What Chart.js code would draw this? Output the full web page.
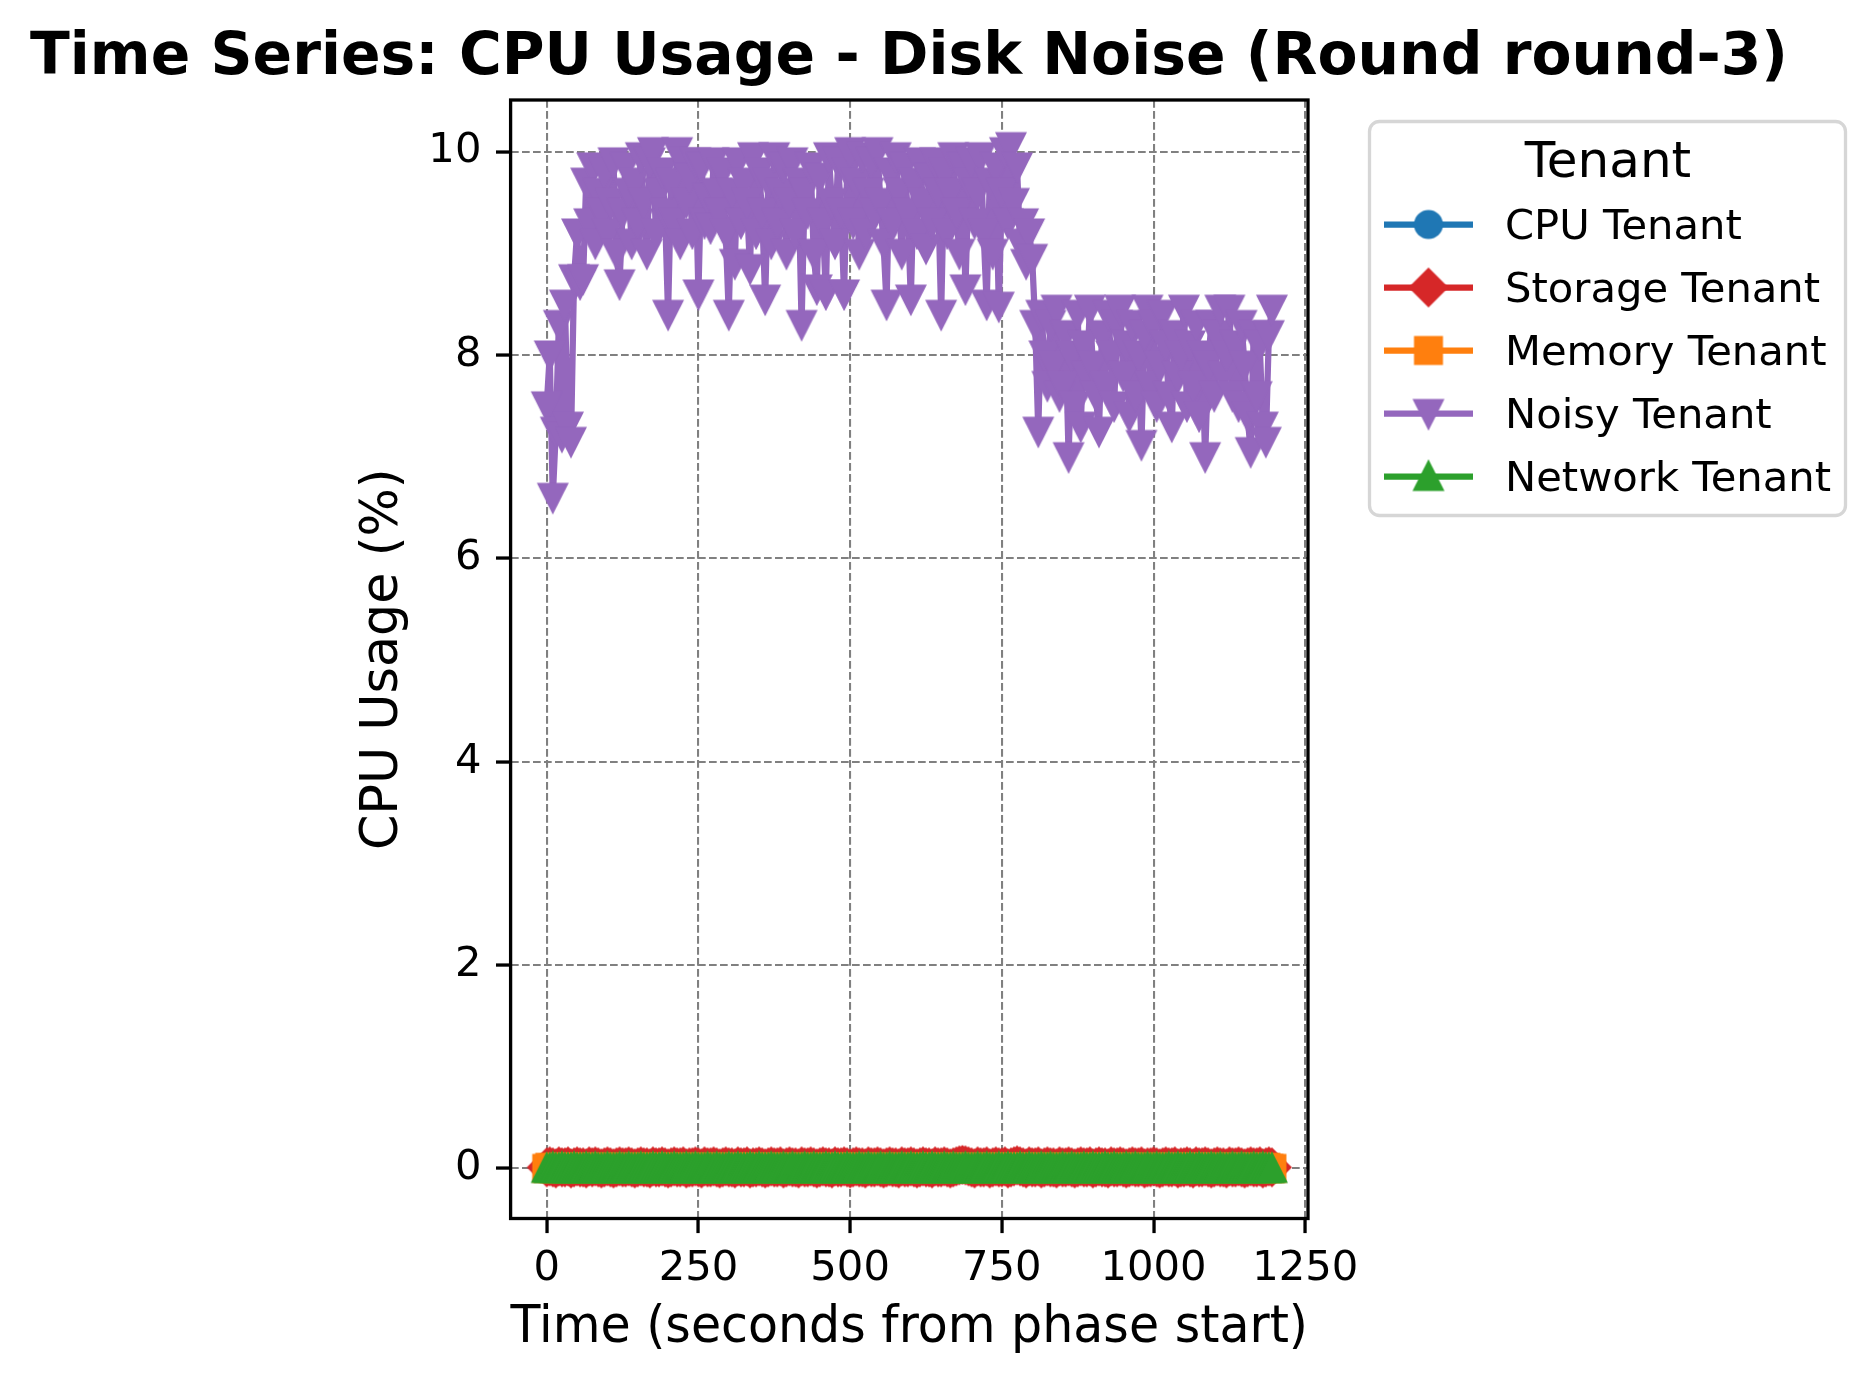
<!DOCTYPE html>
<html><head><meta charset="utf-8">
<script src="https://cdn.jsdelivr.net/npm/chart.js@4.4.1/dist/chart.umd.min.js"></script>
<style>html,body{margin:0;padding:0;background:#fff;}#wrap{width:1875px;height:1386px;position:relative;}</style>
</head><body><div id="wrap"><canvas id="c"></canvas></div>
<script>
// ---------- data ----------
const times = [
0,5,10,15,20,25,30,35,40,45,50,55,60,65,70,75,80,85,90,95,
100,105,110,115,120,125,130,135,140,145,150,155,160,165,170,175,180,185,190,195,
200,205,210,215,220,225,230,235,240,245,250,255,260,265,270,275,280,285,290,295,
300,305,310,315,320,325,330,335,340,345,350,355,360,365,370,375,380,385,390,395,
400,405,410,415,420,425,430,435,440,445,450,455,460,465,470,475,480,485,490,495,
500,505,510,515,520,525,530,535,540,545,550,555,560,565,570,575,580,585,590,595,
600,605,610,615,620,625,630,635,640,645,650,655,660,665,670,675,680,685,690,695,
700,705,710,715,720,725,730,735,740,745,750,755,760,765,770,775,780,785,790,795,
800,805,810,815,820,825,830,835,840,845,850,855,860,865,870,875,880,885,890,895,
900,905,910,915,920,925,930,935,940,945,950,955,960,965,970,975,980,985,990,995,
1000,1005,1010,1015,1020,1025,1030,1035,1040,1045,1050,1055,1060,1065,1070,1075,1080,1085,1090,1095,
1100,1105,1110,1115,1120,1125,1130,1135,1140,1145,1150,1155,1160,1165,1170,1175,1180,1185,1190,1195
];
const noisyTenant = [
7.5,8.0,6.6,7.25,8.3,7.2,8.5,7.3,7.15,8.75, 9.2,8.7,8.75,9.7,9.3,9.85,9.1,9.6,9.4,9.8,
9.2,9.5,9.9,9.0,8.7,9.4,9.85,9.6,9.1,9.7, 9.3,9.95,9.5,9.0,9.9,10.0,9.2,9.6,9.8,9.4,
8.4,9.7,9.3,10.0,9.1,9.9,9.5,9.75,9.2,9.9, 8.6,9.85,9.3,9.55,9.25,9.9,9.6,9.4,9.8,9.2,
8.4,9.6,8.9,9.9,9.3,9.7,9.5,8.85,9.95,9.2, 9.8,9.4,8.55,9.7,9.1,9.95,9.3,9.6,9.85,9.0,
9.5,9.9,9.2,9.7,8.3,9.6,9.4,9.85,9.0,8.65, 9.75,9.3,8.6,9.95,9.5,9.1,9.9,9.4,8.6,9.8,
10.0,9.3,9.7,9.0,9.95,9.2,9.6,9.9,9.4,10.0, 9.5,9.1,8.5,9.8,9.3,9.95,9.6,9.0,9.85,9.4,
8.55,9.7,9.2,9.9,9.5,9.05,9.75,9.3,9.9,9.6, 8.4,9.8,9.2,9.6,9.95,9.4,9.0,9.85,8.65,9.7,
9.9,9.3,9.6,9.95,9.2,8.5,9.7,9.0,9.85,8.48, 9.6,10.0,9.3,10.05,9.5,9.85,9.1,9.3,8.9,9.2,
8.95,8.3,7.25,8.4,8.0,7.7,8.3,7.9,8.45,7.6, 7.7,8.2,7.0,8.0,7.5,8.4,7.3,8.1,7.8,8.45,
7.9,7.6,7.25,8.2,7.7,8.4,8.0,7.5,8.3,8.45, 7.8,8.1,7.4,8.3,7.6,8.0,7.12,8.2,8.45,7.7,
8.3,7.5,7.9,8.4,8.1,7.6,7.3,8.2,7.8,8.0, 8.45,7.5,8.1,7.7,8.3,7.4,8.0,7.0,7.9,8.3,
7.6,8.2,8.45,7.8,8.0,8.45,7.6,8.1,7.5,8.3, 7.9,7.4,7.05,8.2,7.6,8.1,7.3,7.15,8.2,8.45
];
const cpuTenant = [
0.01,0.02,0.01,0.01,0.0,0.02,0.01,0.01,0.02,0.01,0.0,0.01,0.02,0.01,0.01,0.0,0.01,0.02,0.01,0.01,
0.02,0.01,0.0,0.01,0.01,0.02,0.01,0.0,0.01,0.02,0.01,0.01,0.0,0.02,0.01,0.01,0.02,0.0,0.01,0.01,
0.01,0.0,0.02,0.01,0.01,0.01,0.02,0.01,0.0,0.01,0.02,0.01,0.01,0.0,0.01,0.02,0.01,0.01,0.02,0.0,
0.01,0.02,0.01,0.0,0.01,0.01,0.02,0.01,0.01,0.0,0.02,0.01,0.01,0.02,0.0,0.01,0.01,0.02,0.01,0.01,
0.0,0.01,0.02,0.01,0.01,0.02,0.0,0.01,0.01,0.02,0.01,0.0,0.01,0.01,0.02,0.01,0.01,0.0,0.02,0.01,
0.01,0.02,0.0,0.01,0.01,0.02,0.01,0.01,0.0,0.01,0.02,0.01,0.01,0.02,0.0,0.01,0.01,0.02,0.01,0.0,
0.02,0.01,0.01,0.0,0.02,0.01,0.01,0.02,0.01,0.0,0.01,0.02,0.01,0.01,0.0,0.02,0.01,0.01,0.02,0.01,
0.0,0.01,0.02,0.01,0.01,0.0,0.02,0.01,0.01,0.02,0.01,0.0,0.01,0.02,0.01,0.01,0.02,0.0,0.01,0.01,
0.02,0.01,0.0,0.01,0.02,0.01,0.01,0.0,0.02,0.01,0.01,0.02,0.01,0.0,0.01,0.01,0.02,0.01,0.0,0.01,
0.01,0.02,0.01,0.0,0.01,0.02,0.01,0.01,0.0,0.02,0.01,0.01,0.02,0.01,0.0,0.01,0.02,0.01,0.01,0.0,
0.02,0.01,0.01,0.02,0.0,0.01,0.01,0.02,0.01,0.0,0.01,0.02,0.01,0.01,0.02,0.0,0.01,0.01,0.02,0.01,
0.0,0.01,0.02,0.01,0.01,0.0,0.02,0.01,0.01,0.02,0.01,0.0,0.01,0.02,0.01,0.01,0.0,0.02,0.01,0.01
];
const storageTenant = [
0.01,0.02,0.01,0.0,0.02,0.01,0.01,0.02,0.0,0.01,0.02,0.01,0.01,0.0,0.02,0.01,0.02,0.01,0.0,0.01,
0.02,0.01,0.0,0.01,0.02,0.01,0.01,0.02,0.01,0.0,0.01,0.02,0.01,0.01,0.0,0.02,0.01,0.01,0.02,0.01,
0.0,0.01,0.02,0.01,0.01,0.02,0.0,0.01,0.01,0.02,0.01,0.0,0.02,0.01,0.01,0.02,0.01,0.0,0.01,0.02,
0.01,0.01,0.0,0.02,0.01,0.01,0.02,0.0,0.01,0.01,0.02,0.01,0.0,0.01,0.02,0.01,0.01,0.02,0.0,0.01,
0.02,0.01,0.01,0.0,0.02,0.01,0.01,0.02,0.01,0.0,0.01,0.02,0.01,0.01,0.0,0.02,0.01,0.01,0.02,0.01,
0.0,0.01,0.02,0.01,0.01,0.0,0.02,0.01,0.01,0.02,0.01,0.0,0.01,0.02,0.01,0.01,0.0,0.02,0.01,0.01,
0.02,0.01,0.0,0.01,0.02,0.01,0.01,0.0,0.02,0.01,0.01,0.02,0.01,0.0,0.01,0.02,0.03,0.035,0.03,0.02,
0.01,0.0,0.02,0.01,0.01,0.02,0.0,0.01,0.02,0.01,0.01,0.02,0.0,0.01,0.02,0.03,0.02,0.01,0.0,0.02,
0.01,0.01,0.02,0.0,0.01,0.02,0.01,0.01,0.0,0.02,0.01,0.01,0.02,0.01,0.0,0.01,0.02,0.01,0.01,0.02,
0.0,0.01,0.02,0.01,0.01,0.0,0.02,0.01,0.01,0.02,0.01,0.0,0.01,0.02,0.01,0.01,0.02,0.0,0.01,0.01,
0.02,0.01,0.0,0.01,0.02,0.01,0.01,0.02,0.0,0.01,0.01,0.02,0.01,0.0,0.02,0.01,0.01,0.02,0.01,0.0,
0.01,0.02,0.01,0.01,0.0,0.02,0.01,0.01,0.02,0.01,0.0,0.01,0.02,0.01,0.01,0.02,0.0,0.01,0.02,0.01
];
const memoryTenant = [
0.0,0.01,0.0,0.0,0.01,0.0,0.01,0.0,0.0,0.01,0.0,0.0,0.01,0.0,0.01,0.0,0.0,0.01,0.0,0.0,
0.01,0.0,0.0,0.01,0.0,0.01,0.0,0.0,0.01,0.0,0.0,0.01,0.0,0.0,0.01,0.0,0.01,0.0,0.0,0.01,
0.0,0.0,0.01,0.0,0.0,0.01,0.0,0.01,0.0,0.0,0.01,0.0,0.0,0.01,0.0,0.0,0.01,0.0,0.01,0.0,
0.0,0.01,0.0,0.0,0.01,0.0,0.0,0.01,0.0,0.01,0.0,0.0,0.01,0.0,0.0,0.01,0.0,0.0,0.01,0.0,
0.01,0.0,0.0,0.01,0.0,0.0,0.01,0.0,0.01,0.0,0.0,0.01,0.0,0.0,0.01,0.0,0.01,0.0,0.0,0.01,
0.0,0.0,0.01,0.0,0.01,0.0,0.0,0.01,0.0,0.0,0.01,0.0,0.01,0.0,0.0,0.01,0.0,0.0,0.01,0.0,
0.0,0.01,0.0,0.0,0.01,0.0,0.01,0.0,0.0,0.01,0.0,0.0,0.01,0.0,0.01,0.0,0.0,0.01,0.0,0.0,
0.01,0.0,0.0,0.01,0.0,0.0,0.01,0.0,0.01,0.0,0.0,0.01,0.0,0.0,0.01,0.0,0.01,0.0,0.0,0.01,
0.0,0.01,0.0,0.0,0.01,0.0,0.0,0.01,0.0,0.01,0.0,0.0,0.01,0.0,0.0,0.01,0.0,0.01,0.0,0.0,
0.01,0.0,0.0,0.01,0.0,0.01,0.0,0.0,0.01,0.0,0.0,0.01,0.0,0.01,0.0,0.0,0.01,0.0,0.0,0.01,
0.0,0.0,0.01,0.0,0.0,0.01,0.0,0.01,0.0,0.0,0.01,0.0,0.0,0.01,0.0,0.01,0.0,0.0,0.01,0.0,
0.01,0.0,0.0,0.01,0.0,0.0,0.01,0.0,0.01,0.0,0.0,0.01,0.0,0.0,0.01,0.0,0.0,0.01,0.0,0.0
];
const networkTenant = [
0.0,0.0,0.01,0.0,0.0,0.01,0.0,0.0,0.0,0.01,0.0,0.0,0.0,0.01,0.0,0.0,0.01,0.0,0.0,0.0,
0.01,0.0,0.0,0.0,0.01,0.0,0.0,0.01,0.0,0.0,0.0,0.01,0.0,0.0,0.0,0.01,0.0,0.0,0.01,0.0,
0.0,0.0,0.01,0.0,0.0,0.0,0.01,0.0,0.0,0.01,0.0,0.0,0.0,0.01,0.0,0.0,0.01,0.0,0.0,0.0,
0.01,0.0,0.0,0.01,0.0,0.0,0.0,0.01,0.0,0.0,0.01,0.0,0.0,0.0,0.01,0.0,0.0,0.0,0.01,0.0,
0.0,0.01,0.0,0.0,0.0,0.01,0.0,0.0,0.01,0.0,0.0,0.0,0.01,0.0,0.0,0.01,0.0,0.0,0.0,0.01,
0.0,0.0,0.0,0.01,0.0,0.0,0.01,0.0,0.0,0.0,0.01,0.0,0.0,0.01,0.0,0.0,0.0,0.01,0.0,0.0,
0.01,0.0,0.0,0.0,0.01,0.0,0.0,0.01,0.0,0.0,0.0,0.01,0.0,0.0,0.01,0.0,0.0,0.0,0.01,0.0,
0.0,0.0,0.01,0.0,0.0,0.01,0.0,0.0,0.0,0.01,0.0,0.0,0.01,0.0,0.0,0.0,0.01,0.0,0.0,0.01,
0.0,0.0,0.0,0.01,0.0,0.0,0.01,0.0,0.0,0.0,0.01,0.0,0.0,0.01,0.0,0.0,0.0,0.01,0.0,0.0,
0.01,0.0,0.0,0.0,0.01,0.0,0.0,0.01,0.0,0.0,0.0,0.01,0.0,0.0,0.01,0.0,0.0,0.0,0.01,0.0,
0.0,0.01,0.0,0.0,0.0,0.01,0.0,0.0,0.01,0.0,0.0,0.0,0.01,0.0,0.0,0.01,0.0,0.0,0.0,0.01,
0.0,0.0,0.01,0.0,0.0,0.0,0.01,0.0,0.0,0.01,0.0,0.0,0.0,0.01,0.0,0.0,0.01,0.0,0.0,0.0
];
const seriesNames = ['CPU Tenant','Storage Tenant','Memory Tenant','Noisy Tenant','Network Tenant'];
const xTickValues = [0,250,500,750,1000,1250];
const yTickValues = [0,2,4,6,8,10];
const chartTitle = 'Time Series: CPU Usage - Disk Noise (Round round-3)';
const xLabel = 'Time (seconds from phase start)';
const yLabel = 'CPU Usage (%)';
const legendTitle = 'Tenant';

// ---------- styling ----------
const FONT = 'DejaVu Sans';
function makeMarker(shape, color) {
  const c = document.createElement('canvas');
  c.width = 44; c.height = 44;
  const g = c.getContext('2d');
  const m = 22;
  g.fillStyle = color;
  g.beginPath();
  if (shape === 'circle') g.arc(m, m, 14.5, 0, Math.PI * 2);
  else if (shape === 'square') g.rect(m - 14.5, m - 14.5, 29, 29);
  else if (shape === 'diamond') { g.moveTo(m, m - 20); g.lineTo(m + 20, m); g.lineTo(m, m + 20); g.lineTo(m - 20, m); g.closePath(); }
  else if (shape === 'down') { g.moveTo(m - 16, m - 14.5); g.lineTo(m + 16, m - 14.5); g.lineTo(m, m + 17.3); g.closePath(); }
  else if (shape === 'up') { g.moveTo(m - 16, m + 14.5); g.lineTo(m + 16, m + 14.5); g.lineTo(m, m - 17.3); g.closePath(); }
  g.fill();
  return c;
}
const seriesDefs = [
  {name: seriesNames[0], values: cpuTenant,     color: '#1f77b4', shape: 'circle',  order: 5},
  {name: seriesNames[1], values: storageTenant, color: '#d62728', shape: 'diamond', order: 4},
  {name: seriesNames[2], values: memoryTenant,  color: '#ff7f0e', shape: 'square',  order: 3},
  {name: seriesNames[3], values: noisyTenant,   color: '#9467bd', shape: 'down',    order: 2},
  {name: seriesNames[4], values: networkTenant, color: '#2ca02c', shape: 'up',      order: 1}
];
seriesDefs.forEach(d => d.marker = makeMarker(d.shape, d.color));

const datasets = seriesDefs.map(d => ({
  label: d.name,
  data: times.map((t, i) => ({x: t, y: d.values[i]})),
  borderColor: d.color,
  backgroundColor: d.color,
  borderWidth: 6.25,
  borderJoinStyle: 'round',
  borderCapStyle: 'round',
  pointStyle: d.marker,
  pointRadius: 15,
  pointHoverRadius: 15,
  pointBorderWidth: 0,
  fill: false,
  tension: 0,
  order: d.order
}));

const framePlugin = {
  id: 'frame',
  afterDatasetsDraw(chart) {
    const {ctx, chartArea: a} = chart;
    ctx.save();
    ctx.strokeStyle = '#000';
    ctx.lineWidth = 3.3;
    ctx.strokeRect(a.left, a.top, a.right - a.left, a.bottom - a.top);
    ctx.restore();
  },
  afterDraw(chart) {
    const ctx = chart.ctx;
    ctx.save();
    ctx.beginPath();
    ctx.roundRect(1369.5, 121.5, 476, 394, 10);
    ctx.fillStyle = 'rgba(255,255,255,0.8)';
    ctx.fill();
    ctx.lineWidth = 3.3;
    ctx.strokeStyle = '#d6d6d6';
    ctx.stroke();
    ctx.fillStyle = '#000';
    ctx.font = '50px "' + FONT + '"';
    ctx.textAlign = 'center';
    ctx.textBaseline = 'alphabetic';
    ctx.fillText(legendTitle, 1608, 177);
    ctx.font = '41.7px "' + FONT + '"';
    ctx.textAlign = 'left';
    seriesDefs.forEach((d, i) => {
      const y = 224.5 + i * 63;
      ctx.beginPath();
      ctx.moveTo(1384, y); ctx.lineTo(1473, y);
      ctx.strokeStyle = d.color; ctx.lineWidth = 6.25; ctx.lineCap = 'butt';
      ctx.stroke();
      ctx.drawImage(d.marker, 1428.5 - 22, y - 22);
      ctx.fillStyle = '#000';
      ctx.fillText(d.name, 1505, y + 14.2);
    });
    ctx.restore();
  }
};

const gridCommon = {
  color: '#808080', lineWidth: 2.08,
  drawTicks: true, tickLength: 14.6, tickColor: '#000', tickWidth: 3.3, tickBorderDash: []
};
const borderCommon = {display: false, dash: [7.7, 3.3]};

new Chart(document.getElementById('c'), {
  type: 'line',
  data: {datasets},
  plugins: [framePlugin],
  options: {
    responsive: true,
    maintainAspectRatio: false,
    devicePixelRatio: 1,
    animation: false,
    events: [],
    layout: {padding: {left: 30, right: 87, top: 0, bottom: 26.3}},
    plugins: {
      legend: {display: false},
      tooltip: {enabled: false},
      title: {
        display: true, text: chartTitle, color: '#000', align: 'center',
        font: {family: FONT, size: 59.5, weight: 'bold'},
        padding: {top: 23, bottom: 5.6}
      }
    },
    scales: {
      x: {
        type: 'linear', min: -59.5, max: 1254.5,
        afterBuildTicks: s => { s.ticks = xTickValues.map(v => ({value: v})); },
        afterFit: s => { s.height = 141.2; },
        grid: gridCommon,
        border: borderCommon,
        ticks: {color: '#000', font: {family: FONT, size: 41.7}, padding: 11, maxRotation: 0, autoSkip: false, callback: v => String(v)},
        title: {display: true, text: xLabel, color: '#000', font: {family: FONT, size: 50.8}, padding: {top: 0, bottom: 0}}
      },
      y: {
        type: 'linear', min: -0.493, max: 10.508,
        afterBuildTicks: s => { s.ticks = yTickValues.map(v => ({value: v})); },
        afterFit: s => { s.width = 480.6; },
        grid: gridCommon,
        border: borderCommon,
        ticks: {color: '#000', font: {family: FONT, size: 41.7}, padding: 14.6, autoSkip: false, callback: v => String(v)},
        title: {display: true, text: yLabel, color: '#000', font: {family: FONT, size: 50.8}, padding: {top: 323, bottom: 0}}
      },
      yRight: {
        type: 'linear', position: 'right', display: true, min: 0, max: 1,
        grid: {display: false, drawTicks: false},
        ticks: {display: false},
        border: {display: false},
        afterFit: s => { s.width = 480; }
      }
    }
  }
});
</script>
</body></html>
